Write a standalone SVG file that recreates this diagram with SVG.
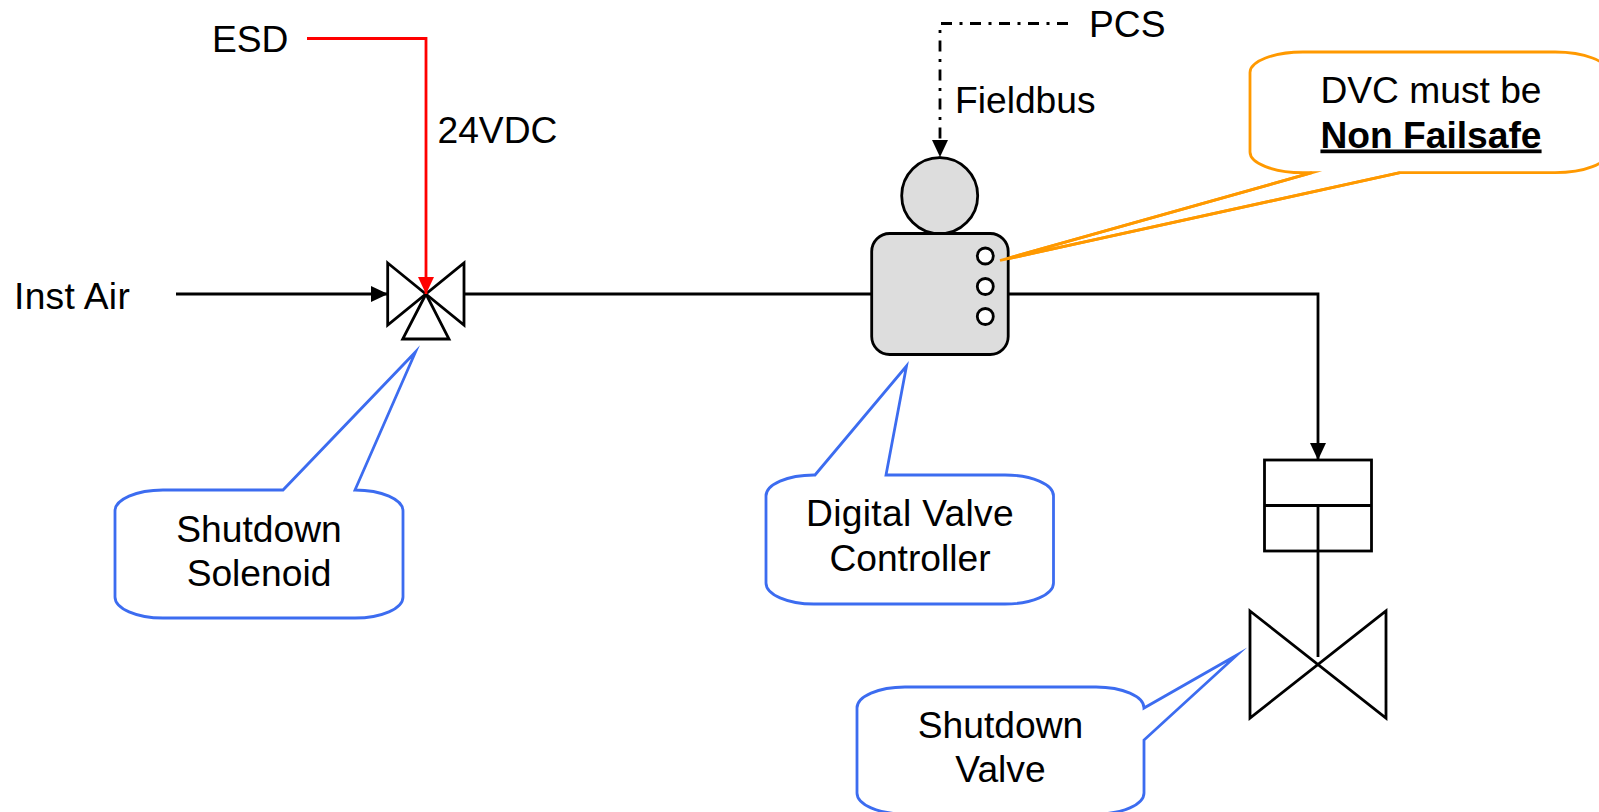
<svg xmlns="http://www.w3.org/2000/svg" width="1599" height="812" viewBox="0 0 1599 812">
<style>
text{font-family:"Liberation Sans",Arial,sans-serif;font-size:37.2px;fill:#000}
.m{text-anchor:middle}
.s{fill:none;stroke:#000;stroke-width:2.8;stroke-miterlimit:10}
.v{fill:#fff;stroke:#000;stroke-width:2.8;stroke-miterlimit:10}
.g{fill:#ddd;stroke:#000;stroke-width:2.8}
.d{fill:#fff;stroke:#000;stroke-width:2.8}
.b{fill:#fff;stroke:#3c6cf0;stroke-width:2.8;stroke-miterlimit:10}
.o{fill:#fff;stroke:#f90;stroke-width:2.8;stroke-miterlimit:10}
</style>
<defs>
<marker id="ak" markerUnits="userSpaceOnUse" markerWidth="18" markerHeight="18" refX="17" refY="9" orient="auto"><path d="M0 1L17 9L0 17z" fill="#000"/></marker>
<marker id="ar" markerUnits="userSpaceOnUse" markerWidth="18" markerHeight="18" refX="17" refY="9" orient="auto"><path d="M0 1L17 9L0 17z" fill="#f00"/></marker>
</defs>
<g id="callout-dvc-note"><path class="o" d="M1303 52H1555A53 20.500 0 0 1 1608 72.500V152A53 20.700 0 0 1 1555 172.700H1400L1000 260.500L1312 172.700H1303A53 20.700 0 0 1 1250 152V72.500A53 20.500 0 0 1 1303 52Z"/><text class="m" x="1431" y="102.500">DVC must be</text><text class="m" x="1431" y="147.500" font-weight="bold" text-decoration="underline">Non Failsafe</text></g>
<g id="connectors">
<path class="s" d="M176 294H388" marker-end="url(#ak)"/>
<path class="s" d="M464 294H872"/>
<path class="s" d="M1008 294H1318V460" marker-end="url(#ak)"/>
<path class="s" d="M1318 505V657"/>
<path class="s" d="M1068 23.500H940V157" stroke-dasharray="11 7.500 3 7.500" marker-end="url(#ak)"/>
</g>
<g id="solenoid-valve"><path class="v" d="M426 294L402.700 339H449Z"/><path class="v" d="M387.700 263L464 325V263L387.700 325Z"/></g>
<g id="esd-line"><path fill="none" stroke="#f00" stroke-width="2.800" d="M307 38.500H426V294" marker-end="url(#ar)"/></g>
<g id="dvc"><circle class="g" cx="939.700" cy="195.700" r="38"/><rect class="g" x="871.700" y="233.500" width="136.500" height="121" rx="18" ry="18"/><circle class="d" cx="985.300" cy="256" r="8"/><circle class="d" cx="985.300" cy="286.500" r="8"/><circle class="d" cx="985.300" cy="316.500" r="8"/></g>
<g id="dvc-leader"><path fill="none" stroke="#f90" stroke-width="2.800" stroke-miterlimit="10" d="M1312 172.700L1000 260.500L1400 172.700"/></g>
<g id="actuator"><rect class="s" x="1264.500" y="460" width="107" height="91"/><path class="s" d="M1264.500 505.500H1371.500"/></g>
<g id="shutdown-valve"><path class="s" d="M1250 611L1386 718V611L1250 718Z"/></g>
<g id="callout-solenoid"><path class="b" d="M163 490H283L415.500 352L355 490A48 21 0 0 1 403 511V597A48 21 0 0 1 355 618H163A48 21 0 0 1 115 597V511A48 21 0 0 1 163 490Z"/><text class="m" x="259" y="541.500">Shutdown</text><text class="m" x="259" y="585.500">Solenoid</text></g>
<g id="callout-digital"><path class="b" d="M814 475H815L906.500 366L886 475H1005A48.500 21 0 0 1 1053.500 496V583A48.500 21 0 0 1 1005 604H814A48 21 0 0 1 766 583V496A48 21 0 0 1 814 475Z"/><text class="m" x="910" y="526" letter-spacing="0.3">Digital Valve</text><text class="m" x="910" y="570.500">Controller</text></g>
<g id="callout-valve"><path class="b" d="M905 687H1096A48 21 0 0 1 1144 708L1237 655L1144 740V793A48 21 0 0 1 1096 814H905A48 21 0 0 1 857 793V708A48 21 0 0 1 905 687Z"/><text class="m" x="1000.500" y="738">Shutdown</text><text class="m" x="1000.500" y="782">Valve</text></g>
<g id="labels"><text x="212" y="52">ESD</text><text x="14" y="309" letter-spacing="0.3">Inst Air</text><text x="437.500" y="143">24VDC</text><text x="1089" y="37">PCS</text><text x="955" y="113">Fieldbus</text></g>
</svg>
